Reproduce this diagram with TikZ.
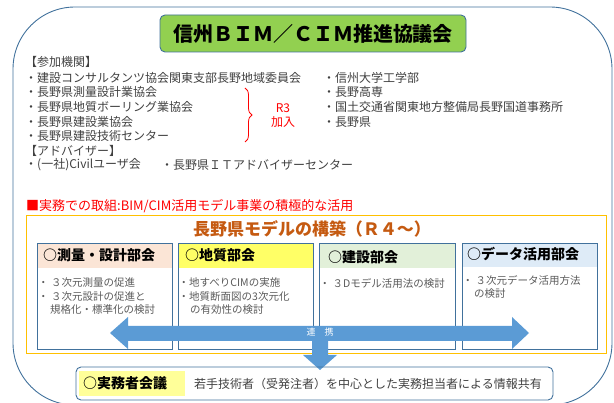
\documentclass[tikz,border=0pt]{standalone}
\usepackage{fontspec}
\setmainfont{Noto Sans CJK JP}
\usetikzlibrary{decorations.pathreplacing}
\definecolor{frame}{HTML}{41719C}
\definecolor{titlegreen}{HTML}{92D050}
\definecolor{gold}{HTML}{FFC000}
\definecolor{brownt}{HTML}{C55A11}
\definecolor{arrowblue}{HTML}{5B9BD5}
\definecolor{txtgray}{HTML}{404040}
\definecolor{bodygray}{HTML}{595959}
\definecolor{hpeach}{HTML}{FBE5D6}
\definecolor{hyellow}{HTML}{FFFF66}
\definecolor{hgreen}{HTML}{E2F0D9}
\definecolor{hblue}{HTML}{DEEBF7}
\definecolor{hlyellow}{HTML}{FFFF99}
\tikzset{
  txt/.style={anchor=west, inner sep=0pt, text=txtgray, font=\fontsize{12}{12}\selectfont},
  body/.style={anchor=west, inner sep=0pt, text=bodygray, font=\fontsize{10.5}{10.5}\selectfont},
  head/.style={anchor=west, inner sep=0pt, text=black, font=\fontsize{14}{14}\selectfont\bfseries},
  subbox/.style={draw=frame, line width=0.9pt},
}
\begin{document}
\begin{tikzpicture}[x=1pt,y=-1pt]
\useasboundingbox (0,0) rectangle (614,403);
\begin{scope}
\clip (0,0) rectangle (614,403);
\draw[frame, line width=0.9pt, rounded corners=62pt] (13,7) rectangle (612,405);
\end{scope}
% title
\node[draw=frame, fill=titlegreen, rounded corners=5pt, line width=0.9pt, minimum width=306pt, minimum height=37pt, inner sep=0pt, font=\fontsize{20}{20}\selectfont\bfseries] (title) at (313,33.5) {信州ＢＩＭ／ＣＩＭ推進協議会};
% participants
\node[txt] (p0) at (25,62) {【参加機関】};
\node[txt] (p1) at (25,78) {・建設コンサルタンツ協会関東支部長野地域委員会};
\node[txt] (p2) at (25,92) {・長野県測量設計業協会};
\node[txt] (p3) at (25,107) {・長野県地質ボーリング業協会};
\node[txt] (p4) at (25,122) {・長野県建設業協会};
\node[txt] (p5) at (25,136) {・長野県建設技術センター};
\node[txt] (a0) at (25,151) {【アドバイザー】};
\node[txt] (a1) at (25,165) {・(一社)Civilユーザ会};
\node[txt] (a2) at (161,165) {・長野県ＩＴアドバイザーセンター};
\node[txt] (q1) at (323,78) {・信州大学工学部};
\node[txt] (q2) at (323,92) {・長野高専};
\node[txt] (q3) at (323,107) {・国土交通省関東地方整備局長野国道事務所};
\node[txt] (q4) at (323,122) {・長野県};
\coordinate (bt) at (245,88);
\coordinate (bb) at (245,142);
\draw[red, line width=0.8pt, decorate, decoration={brace, amplitude=7pt}] (bt) -- (bb);
\node[inner sep=0pt, text=red, font=\fontsize{12}{12}\selectfont] (r3) at (283,108) {R3};
\node[inner sep=0pt, text=red, font=\fontsize{12}{12}\selectfont] (kn) at (283,122) {加入};
% practice
\node[anchor=west, inner sep=0pt, text=red, font=\fontsize{13}{13}\selectfont] (pr) at (26,206) {■実務での取組:BIM/CIM活用モデル事業の積極的な活用};
\draw[gold, line width=1pt] (26,216) rectangle (606,354);
\node[inner sep=0pt, text=brownt, font=\fontsize{17}{17}\selectfont\bfseries] (model) at (312,229) {長野県モデルの構築（Ｒ４～）};
% sub boxes
\fill[hpeach] (37,243) rectangle (172,268);
\fill[hyellow] (178,243) rectangle (313,268);
\fill[hgreen] (319,243) rectangle (455,268);
\fill[hblue] (462,243) rectangle (597,267);
\draw[subbox] (37,243) rectangle (172,349);
\draw[subbox] (178,243) rectangle (313,349);
\draw[subbox] (319,243) rectangle (455,349);
\draw[subbox] (462,243) rectangle (597,349);
\node[head] (h1) at (43,255) {○測量・設計部会};
\node[head] (h2) at (185,255) {○地質部会};
\node[head] (h3) at (328,257) {○建設部会};
\node[head] (h4) at (467,254) {○データ活用部会};
\node[body] (b11) at (38,283) {・ ３次元測量の促進};
\node[body] (b12) at (38,297) {・ ３次元設計の促進と};
\node[body] (b13) at (50,310) {規格化・標準化の検討};
\node[body] (b21) at (178.5,283) {・地すべりCIMの実施};
\node[body] (b22) at (178.5,297) {・地質断面図の3次元化};
\node[body] (b23) at (190,310) {の有効性の検討};
\node[body] (b31) at (319.5,283) {・ ３Dモデル活用法の検討};
\node[body] (b41) at (462.5,280) {・ ３次元データ活用方法};
\node[body] (b42) at (474,294) {の検討};
% arrows
\fill[arrowblue] (110,333) -- (128,317) -- (128,326) -- (512,326) -- (512,317) -- (529,333) -- (512,349) -- (512,341)
  -- (328,341) -- (328,355) -- (337,355) -- (320,370) -- (303,355) -- (312,355) -- (312,341)
  -- (128,341) -- (128,349) -- cycle;
\node[inner sep=0pt, text=white, font=\fontsize{9}{9}\selectfont] (rk) at (320,332.5) {連　携};
% bottom box
\draw[frame, line width=0.9pt, rounded corners=5pt] (76,367) rectangle (553,400);
\fill[hlyellow] (79,371) rectangle (185,396);
\node[anchor=west, inner sep=0pt, text=black, font=\fontsize{14}{14}\selectfont\bfseries] (jm) at (83,383) {○実務者会議};
\node[txt] (jt) at (194,384) {若手技術者（受発注者）を中心とした実務担当者による情報共有};
\end{tikzpicture}
\end{document}
